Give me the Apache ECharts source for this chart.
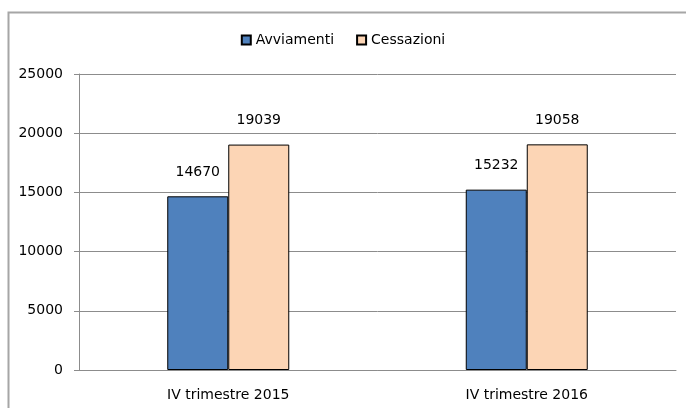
<!DOCTYPE html>
<html>
<head>
<meta charset="utf-8">
<script src="https://cdn.jsdelivr.net/npm/echarts@6/dist/echarts.min.js"></script>
<style>
  html, body { margin: 0; padding: 0; background: #fff; }
  #graph { width: 686px; height: 408px; }
</style>
</head>
<body>
<div id="graph"></div>
<script>
// dati
const categories = ['IV trimestre 2015', 'IV trimestre 2016'];
const avviamenti = [14670, 15232];
const cessazioni = [19039, 19058];
const yTicks = [0, 5000, 10000, 15000, 20000, 25000];

const font = 'DejaVu Sans';
var myChart = echarts.init(document.getElementById('graph'));

myChart.setOption({
  backgroundColor: '#ffffff',
  animation: false,
  graphic: [{
    type: 'rect',
    left: 6, top: 10,
    shape: {width: 700, height: 420},
    style: {fill: 'none', stroke: '#a6a6a6', lineWidth: 2},
    silent: true
  }],
  legend: {
    data: ['Avviamenti', 'Cessazioni'],
    top: 28,
    left: 'center',
    itemWidth: 9,
    itemHeight: 9,
    itemGap: 22,
    icon: 'rect',
    textStyle: {fontFamily: font, fontSize: 14, color: '#000'}
  },
  grid: {left: 79, right: 10, top: 74, bottom: 38},
  xAxis: {
    type: 'category',
    data: categories,
    axisLine: {lineStyle: {color: '#8c8c8c', width: 1}},
    axisTick: {show: false},
    axisLabel: {fontFamily: font, fontSize: 14, color: '#000', margin: 18}
  },
  yAxis: {
    type: 'value',
    min: yTicks[0],
    max: yTicks[yTicks.length - 1],
    interval: 5000,
    axisLine: {show: true, lineStyle: {color: '#8c8c8c'}},
    axisTick: {show: true, length: 5, lineStyle: {color: '#8c8c8c'}},
    splitLine: {lineStyle: {color: '#8c8c8c'}},
    axisLabel: {fontFamily: font, fontSize: 14, color: '#000', margin: 16,
      formatter: function (v) { return String(v); }}
  },
  series: [
    {
      name: 'Avviamenti',
      type: 'bar',
      barWidth: 61,
      barGap: '0%',
      data: avviamenti,
      itemStyle: {color: '#4f81bd', borderColor: '#000', borderWidth: 1},
      label: {show: true, position: 'top', distance: 17, fontFamily: font, fontSize: 14, color: '#000'}
    },
    {
      name: 'Cessazioni',
      type: 'bar',
      barWidth: 61,
      barGap: '0%',
      data: cessazioni,
      itemStyle: {color: '#fcd5b5', borderColor: '#000', borderWidth: 1},
      label: {show: true, position: 'top', distance: 17, fontFamily: font, fontSize: 14, color: '#000'}
    }
  ]
});
</script>
</body>
</html>
